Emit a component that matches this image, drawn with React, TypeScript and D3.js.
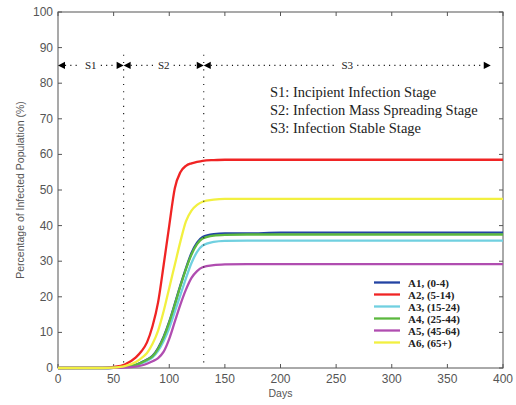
import { useEffect, useRef } from "react";
import * as d3 from "d3";

// Day sample points and per-age-group infected percentage
const DAYS = [0, 40, 50, 60, 70, 75, 80, 85, 90, 95, 100, 105, 110, 115, 120, 125, 130, 140, 150, 170, 200, 250, 300, 400];
const A1 = [0, 0, 0.05, 0.3, 0.9, 1.6, 2.4, 3.4, 5.6, 8.8, 13, 18, 23.2, 28, 32.3, 35.2, 36.8, 37.6, 37.8, 37.8, 38, 38, 38, 38];
const A2 = [0, 0.05, 0.3, 1.0, 3.0, 4.7, 7.2, 11.8, 18.5, 29, 40, 50.5, 55, 56.8, 57.5, 57.9, 58.2, 58.4, 58.5, 58.5, 58.5, 58.5, 58.5, 58.5];
const A3 = [0, 0, 0.02, 0.2, 0.7, 1.3, 2.0, 3.0, 4.8, 7.6, 11.2, 15.8, 20.5, 25.2, 29.5, 32.6, 34.4, 35.4, 35.7, 35.8, 35.8, 35.8, 35.8, 35.8];
const A4 = [0, 0, 0.04, 0.3, 0.9, 1.5, 2.3, 3.3, 5.4, 8.6, 12.8, 17.8, 23, 27.8, 31.9, 34.8, 36.4, 37.2, 37.4, 37.5, 37.5, 37.5, 37.5, 37.5];
const A5 = [0, 0, 0.01, 0.1, 0.4, 0.7, 1.2, 1.9, 2.8, 4.6, 8.2, 13, 17.8, 22, 25.3, 27.2, 28.3, 28.9, 29.1, 29.2, 29.2, 29.2, 29.2, 29.2];
const A6 = [0, 0, 0.1, 0.5, 1.7, 2.8, 4.2, 6.8, 10.5, 16, 22.5, 29, 35.5, 41.2, 44.2, 45.8, 46.7, 47.3, 47.5, 47.5, 47.5, 47.5, 47.5, 47.5];

const SERIES_NAMES = ["A1, (0-4)", "A2, (5-14)", "A3, (15-24)", "A4, (25-44)", "A5, (45-64)", "A6, (65+)"];
const SERIES_VALUES = [A1, A2, A3, A4, A5, A6];
const SERIES_COLORS = ["#2343a3", "#f02424", "#70d0e0", "#5bb83e", "#b04db0", "#f2f040"];

const X_TICKS = [0, 50, 100, 150, 200, 250, 300, 350, 400];
const Y_TICKS = [0, 10, 20, 30, 40, 50, 60, 70, 80, 90, 100];

// Stage boundaries (days) and the level of the stage arrows (%)
const STAGE_BOUNDS = [0, 59, 131, 389];
const STAGE_LABELS = ["S1", "S2", "S3"];
const STAGE_LEVEL = 85;
const STAGE_LINE_TOP = 88;
const STAGE_NOTES = [
  "S1: Incipient Infection Stage",
  "S2: Infection Mass Spreading Stage",
  "S3: Infection Stable Stage",
];

const W = 516;
const H = 405;

function buildChart(svgEl: SVGSVGElement) {
  const margin = { top: 12, right: 13, bottom: 37, left: 58 };
  const innerW = W - margin.left - margin.right;
  const innerH = H - margin.top - margin.bottom;

  const svg = d3.select(svgEl);
  svg.selectAll("*").remove();
  svg.attr("width", W).attr("height", H);

  const g = svg.append("g").attr("transform", `translate(${margin.left},${margin.top})`);

  const x = d3.scaleLinear().domain([0, 400]).range([0, innerW]);
  const y = d3.scaleLinear().domain([0, 100]).range([innerH, 0]);

  const axisColor = "#555";
  const tickFont = "'Liberation Sans', Arial, sans-serif";

  // frame
  g.append("rect")
    .attr("x", 0).attr("y", 0)
    .attr("width", innerW).attr("height", innerH)
    .attr("fill", "none")
    .attr("stroke", axisColor)
    .attr("stroke-width", 1);

  // inward ticks on all four sides
  const tl = 4;
  X_TICKS.forEach(t => {
    const px = x(t);
    g.append("line").attr("x1", px).attr("x2", px).attr("y1", innerH).attr("y2", innerH - tl).attr("stroke", axisColor);
    g.append("line").attr("x1", px).attr("x2", px).attr("y1", 0).attr("y2", tl).attr("stroke", axisColor);
    g.append("text")
      .attr("x", px).attr("y", innerH + 15)
      .attr("text-anchor", "middle")
      .attr("fill", "#555")
      .style("font-family", tickFont)
      .style("font-size", "12px")
      .text(t);
  });
  Y_TICKS.forEach(t => {
    const py = y(t);
    g.append("line").attr("x1", 0).attr("x2", tl).attr("y1", py).attr("y2", py).attr("stroke", axisColor);
    g.append("line").attr("x1", innerW).attr("x2", innerW - tl).attr("y1", py).attr("y2", py).attr("stroke", axisColor);
    g.append("text")
      .attr("x", -5).attr("y", py + 4)
      .attr("text-anchor", "end")
      .attr("fill", "#555")
      .style("font-family", tickFont)
      .style("font-size", "12px")
      .text(t);
  });

  // axis titles
  svg.append("text")
    .attr("x", margin.left + innerW / 2).attr("y", 397)
    .attr("text-anchor", "middle")
    .attr("fill", "#555")
    .style("font-family", tickFont)
    .style("font-size", "10.5px")
    .text("Days");
  svg.append("text")
    .attr("transform", `translate(24,${margin.top + innerH / 2}) rotate(-90)`)
    .attr("text-anchor", "middle")
    .attr("fill", "#555")
    .style("font-family", tickFont)
    .style("font-size", "10.5px")
    .text("Percentage of Infected Population (%)");

  // series
  const line = d3.line<number>()
    .x((_, i) => x(DAYS[i]))
    .y(d => y(d))
    .curve(d3.curveMonotoneX);

  SERIES_VALUES.forEach((vals, i) => {
    g.append("path")
      .attr("d", line(vals))
      .attr("fill", "none")
      .attr("stroke", SERIES_COLORS[i])
      .attr("stroke-width", 2.3);
  });

  // stage dividers
  const serif = "'Liberation Serif', 'Times New Roman', serif";
  STAGE_BOUNDS.slice(1, 3).forEach(d => {
    g.append("line")
      .attr("x1", x(d)).attr("x2", x(d))
      .attr("y1", y(STAGE_LINE_TOP)).attr("y2", innerH)
      .attr("stroke", "#111")
      .attr("stroke-width", 1.1)
      .attr("stroke-dasharray", "1.1 6.2");
  });

  // stage arrows
  const ay = y(STAGE_LEVEL);
  const ah = 7;
  const aw = 3.6;
  const arrowHead = (tipX: number, dir: number) =>
    `M${tipX},${ay} L${tipX - dir * ah},${ay - aw} L${tipX - dir * ah},${ay + aw} Z`;

  STAGE_LABELS.forEach((lab, i) => {
    const x0 = x(STAGE_BOUNDS[i]);
    const x1 = x(STAGE_BOUNDS[i + 1]);
    const mid = (x0 + x1) / 2;
    const gap = 10;
    [[x0 + ah, mid - gap], [mid + gap, x1 - ah]].forEach(([a, b]) => {
      g.append("line")
        .attr("x1", a).attr("x2", b)
        .attr("y1", ay).attr("y2", ay)
        .attr("stroke", "#111")
        .attr("stroke-width", 1.1)
        .attr("stroke-dasharray", "1.1 4.2");
    });
    g.append("path").attr("d", arrowHead(x0, -1)).attr("fill", "#000");
    g.append("path").attr("d", arrowHead(x1, 1)).attr("fill", "#000");
    g.append("text")
      .attr("x", mid).attr("y", ay + 4)
      .attr("text-anchor", "middle")
      .attr("fill", "#222")
      .style("font-family", serif)
      .style("font-size", "11px")
      .text(lab);
  });

  // stage notes
  STAGE_NOTES.forEach((t, i) => {
    svg.append("text")
      .attr("x", 270).attr("y", 97 + i * 18)
      .attr("fill", "#222")
      .style("font-family", serif)
      .style("font-size", "14.5px")
      .text(t);
  });

  // legend
  const lg = svg.append("g").attr("transform", "translate(374,282.5)");
  SERIES_NAMES.forEach((name, i) => {
    const ly = i * 12;
    lg.append("line")
      .attr("x1", 0).attr("x2", 26)
      .attr("y1", ly).attr("y2", ly)
      .attr("stroke", SERIES_COLORS[i])
      .attr("stroke-width", 2.3);
    lg.append("text")
      .attr("x", 34).attr("y", ly + 4)
      .attr("fill", "#222")
      .style("font-family", serif)
      .style("font-size", "11px")
      .style("font-weight", "bold")
      .text(name);
  });
}

export default function App() {
  const svgRef = useRef<SVGSVGElement | null>(null);

  useEffect(() => {
    if (svgRef.current) buildChart(svgRef.current);
  }, []);

  return (
    <svg
      ref={svgRef}
      width={W}
      height={H}
      style={{ position: "absolute", left: 0, top: 0, display: "block", background: "#fff" }}
    />
  );
}
